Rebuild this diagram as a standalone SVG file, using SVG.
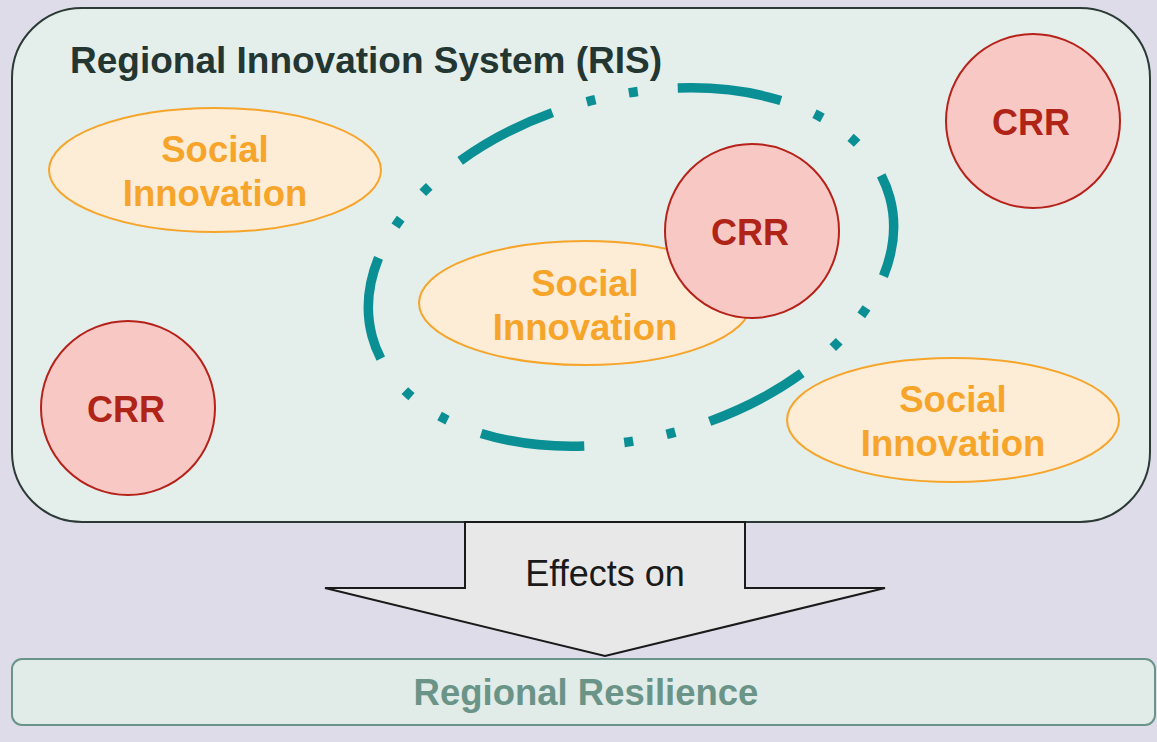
<svg xmlns="http://www.w3.org/2000/svg" width="1157" height="742" viewBox="0 0 1157 742">
<style>
.si{fill:#fdecd6;stroke:#f6a52a;stroke-width:2}
.sit{fill:#f6a52a;font-family:"Liberation Sans",Arial,sans-serif;font-weight:bold;font-size:36.5px;text-anchor:middle}
.crr{fill:#f8c8c5;stroke:#b5221a;stroke-width:2}
.crrt{fill:#b02418;font-family:"Liberation Sans",Arial,sans-serif;font-weight:bold;font-size:36px;text-anchor:middle}
</style>
<rect x="0" y="0" width="1157" height="742" fill="#dfdcea"/>
<g id="ris">
<rect x="12" y="8" width="1138" height="514" rx="70" ry="70" fill="#e4eeeb" stroke="#2b3a35" stroke-width="2"/>
<text x="70" y="73" fill="#233631" font-family="Liberation Sans,Arial,sans-serif" font-weight="bold" font-size="37">Regional Innovation System (RIS)</text>
</g>
<g id="cluster">
<ellipse cx="631" cy="267" rx="268" ry="171" transform="rotate(-15 631 267)" fill="none" stroke="#0a8f94" stroke-width="9.5" pathLength="1392" stroke-dasharray="104 36 9 34 9 40" stroke-dashoffset="24"/>
</g>
<g id="si1">
<ellipse class="si" cx="215" cy="170" rx="166" ry="62"/>
<text class="sit" x="215" y="162">Social</text>
<text class="sit" x="215" y="206">Innovation</text>
</g>
<g id="si2">
<ellipse class="si" cx="585" cy="303" rx="166" ry="62"/>
<text class="sit" x="585" y="296">Social</text>
<text class="sit" x="585" y="340">Innovation</text>
</g>
<g id="si3">
<ellipse class="si" cx="953" cy="420" rx="166" ry="62"/>
<text class="sit" x="953" y="412">Social</text>
<text class="sit" x="953" y="456">Innovation</text>
</g>
<g id="crr1">
<circle class="crr" cx="1033" cy="121" r="87"/>
<text class="crrt" x="1031" y="135">CRR</text>
</g>
<g id="crr2">
<circle class="crr" cx="752" cy="231" r="87"/>
<text class="crrt" x="750" y="245">CRR</text>
</g>
<g id="crr3">
<circle class="crr" cx="128" cy="408" r="87"/>
<text class="crrt" x="126" y="422">CRR</text>
</g>
<g id="connectors">
<polygon points="465,522 745,522 745,588 885,588 605,656 325,588 465,588" fill="#e8e8e8" stroke="#1a1a1a" stroke-width="2"/>
<text x="605" y="586" fill="#1a1a1a" font-family="Liberation Sans,Arial,sans-serif" font-size="36" text-anchor="middle">Effects on</text>
</g>
<g id="resilience">
<rect x="12" y="659" width="1143" height="66" rx="10" ry="10" fill="#e1ebe8" stroke="#6b9488" stroke-width="2"/>
<text x="586" y="705" fill="#6b9488" font-family="Liberation Sans,Arial,sans-serif" font-weight="bold" font-size="36.5" text-anchor="middle">Regional Resilience</text>
</g>
</svg>
